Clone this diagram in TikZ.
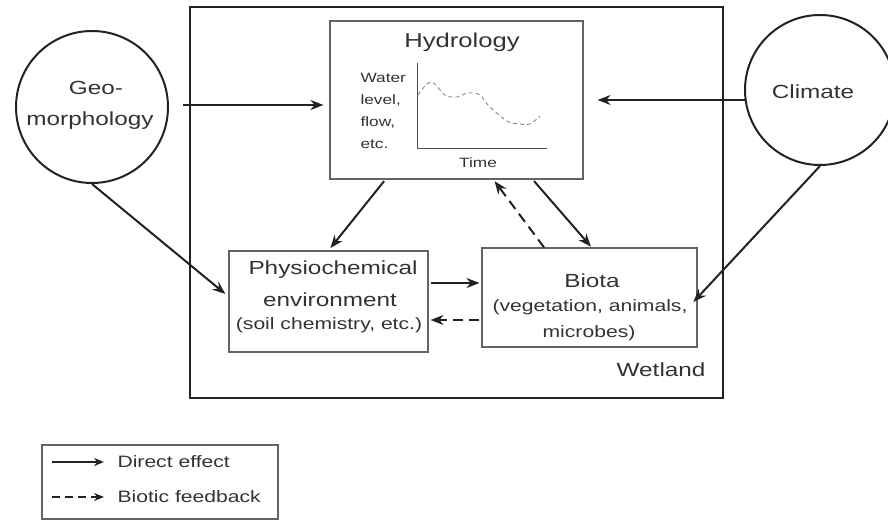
\documentclass[tikz,border=0pt]{standalone}
\usepackage{fontspec}
\setmainfont[FakeStretch=1.28]{Liberation Sans}
\usetikzlibrary{arrows.meta,calc}
\definecolor{ink}{HTML}{222222}
\definecolor{txt}{HTML}{333333}
\tikzset{
  arr/.style={draw=ink, line width=2pt, -{Stealth[length=13pt,width=10pt]}},
  darr/.style={arr, dash pattern=on 10pt off 6pt},
  thinbox/.style={draw=ink!70, line width=1.1pt, rectangle, inner sep=0pt},
  circ/.style={draw=ink, line width=2pt, circle, inner sep=0pt},
  big/.style={text=txt, font=\fontsize{19}{22}\selectfont},
  small/.style={text=txt, font=\fontsize{16.5}{19}\selectfont},
  tiny/.style={text=txt, font=\fontsize{13.5}{16}\selectfont},
}
\begin{document}
\begin{tikzpicture}[x=1pt,y=-1pt]
\useasboundingbox (0,0) rectangle (888,521);
% wetland box
\node[draw=ink, line width=2.6pt, rectangle, inner sep=0pt, minimum width=533pt, minimum height=391pt] (wet) at (456.5,202.5) {};
\node[big, anchor=east] (wetl) at (709,370) {Wetland};
% boxes
\node[thinbox, minimum width=253pt, minimum height=158pt] (hyd) at (456.5,100) {};
\node[thinbox, minimum width=199pt, minimum height=101pt] (phys) at (328.5,301.5) {};
\node[thinbox, minimum width=215pt, minimum height=99pt] (bio) at (589.5,297.5) {};
% circles
\node[circ, minimum size=152pt] (geo) at (92,107) {};
\node[circ, minimum size=150pt] (clim) at (820,90) {};
% texts
\node[big, font=\fontsize{20}{24}\selectfont] (hydt) at (462,42) {Hydrology};
\node[big] (geot1) at (96,88) {Geo-};
\node[big] (geot2) at (90,121) {morphology};
\node[big] (climt) at (813,92) {Climate};
\node[big] (physt1) at (333,270) {Physiochemical};
\node[big] (physt2) at (330,300) {environment};
\node[small] (physt3) at (329,325) {(soil chemistry, etc.)};
\node[big] (biot1) at (592,281) {Biota};
\node[small] (biot2) at (590,307) {(vegetation, animals,};
\node[small] (biot3) at (589,333) {microbes)};
% graph
\coordinate (ax0) at (417,148);
\coordinate (axy) at (417,63);
\coordinate (axx) at (547,148);
\draw[ink!80, line width=0.9pt] (axy) -- (ax0) -- (axx);
\draw[ink!60, line width=0.8pt, dash pattern=on 4pt off 3pt] plot[smooth, tension=0.6] coordinates {(418,95) (431,82) (445,95) (457,97) (468,93) (480,95) (488,105) (507,121) (520,124) (530,124) (540,116)};
\node[tiny, anchor=west] (wl1) at (357,78) {Water};
\node[tiny, anchor=west] (wl2) at (357,100) {level,};
\node[tiny, anchor=west] (wl3) at (357,122) {flow,};
\node[tiny, anchor=west] (wl4) at (357,144) {etc.};
\node[tiny] (timet) at (478,163) {Time};
% arrows
\coordinate (g1) at (183,105);
\draw[arr, shorten >=6pt] (g1) -- (hyd.west |- g1);
\coordinate (c1) at (745,100);
\draw[arr, shorten >=14pt] (c1) -- (hyd.east |- c1);
\draw[arr, shorten >=3pt, shorten <=2pt] ($(hyd.south west)!0.22!(hyd.south east)$) -- (phys.north);
\draw[arr, shorten >=1pt, shorten <=2pt] ($(hyd.south west)!0.80!(hyd.south east)$) -- ($(bio.north west)!0.51!(bio.north east)$);
\draw[darr, shorten >=2pt] ($(bio.north west)!0.29!(bio.north east)$) -- ($(hyd.south west)!0.645!(hyd.south east)$);
\draw[arr, shorten >=4pt] (geo.south) -- ([yshift=5pt]phys.west);
\draw[arr, shorten >=-6pt] (clim.south) -- (bio.east);
\coordinate (m1) at (0,283);
\coordinate (m2) at (0,320);
\draw[arr, shorten >=2pt, shorten <=2pt] (phys.east |- m1) -- (bio.west |- m1);
\draw[darr, shorten >=2pt, shorten <=2pt] (bio.west |- m2) -- (phys.east |- m2);
% legend
\node[thinbox, minimum width=236pt, minimum height=74pt] (leg) at (160,482) {};
\coordinate (l1a) at (52,462);
\coordinate (l1b) at (104,462);
\coordinate (l2a) at (52,497);
\coordinate (l2b) at (104,497);
\draw[arr, line width=1.8pt, -{Stealth[length=10pt,width=8pt]}] (l1a) -- (l1b);
\draw[arr, line width=1.8pt, dash pattern=on 8pt off 5pt, -{Stealth[length=10pt,width=8pt]}] (l2a) -- (l2b);
\node[small, anchor=west] (lt1) at (114,462) {Direct effect};
\node[small, anchor=west] (lt2) at (114,497) {Biotic feedback};
\end{tikzpicture}
\end{document}
